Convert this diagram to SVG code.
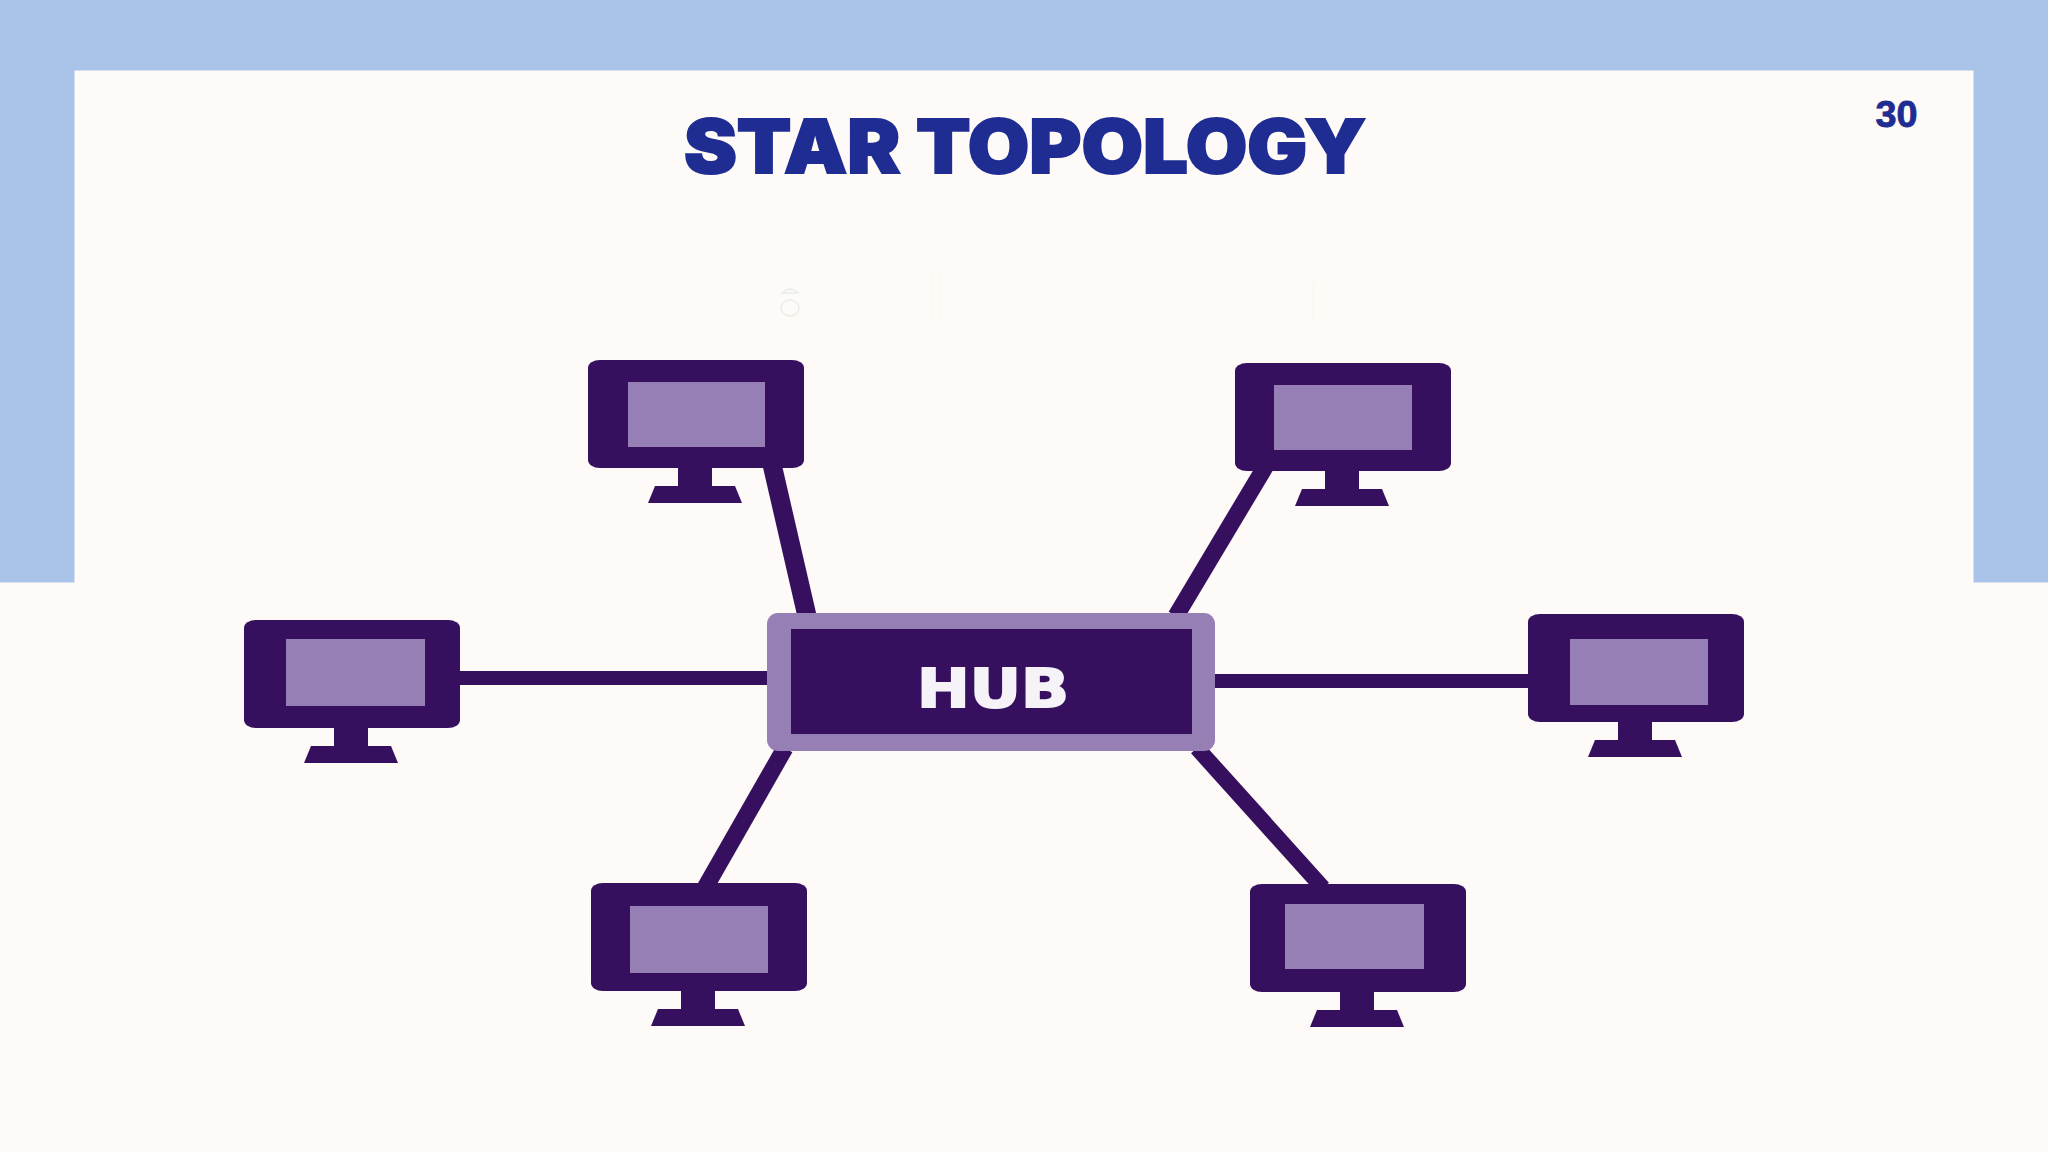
<svg xmlns="http://www.w3.org/2000/svg" width="2048" height="1152" viewBox="0 0 2048 1152">
<style>
.dark{fill:#36105E}
.screen{fill:#957FB5}
.link{stroke:#36105E;fill:none}
.blue{fill:#A9C4E8}
.title{font-family:"Inter","Liberation Sans",sans-serif;font-weight:900;fill:#1F2D93;stroke:#1F2D93;stroke-linejoin:miter}
.num{font-family:"Liberation Sans",sans-serif;font-weight:700;fill:#1F2D93;stroke:#1F2D93}
.hubtext{font-family:"DejaVu Sans",sans-serif;font-weight:700;fill:#F5F3F8;stroke:#F5F3F8}
</style>
<defs>
<g id="monitor">
<rect class="dark" x="0" y="0" width="216" height="108" rx="12" ry="8"/>
<rect class="dark" x="90" y="105" width="34" height="24"/>
<polygon class="dark" points="67,126 147,126 154,143 60,143"/>
</g>
</defs>
<rect width="2048" height="1152" fill="#FEFAF7"/>
<g id="frame">
<rect class="blue" x="0" y="0" width="2048" height="70.5"/>
<rect class="blue" x="0" y="0" width="74.5" height="582.5"/>
<rect class="blue" x="1973.5" y="0" width="74.5" height="582.5"/>
</g>
<g id="ghost" fill="none">
<ellipse cx="790" cy="308" rx="9" ry="8" stroke="#E9EEE8" stroke-width="1.5"/>
<path d="M782 293Q790 285 798 293Z" stroke="#E9EEE8" stroke-width="1.5"/>
<path d="M931 272V320M939 272V320M1313 282V320" stroke="#FCF9F5" stroke-width="2"/>
</g>
<text class="title" x="684" y="173" font-size="74" stroke-width="2" textLength="682" lengthAdjust="spacingAndGlyphs">STAR TOPOLOGY</text>
<text class="num" x="1875.5" y="126.5" font-size="36" stroke-width="0.8" textLength="42" lengthAdjust="spacingAndGlyphs">30</text>
<g id="connectors">
<line class="link" x1="771" y1="460" x2="807" y2="616" stroke-width="19"/>
<line class="link" x1="1268" y1="462" x2="1176" y2="616" stroke-width="17"/>
<line class="link" x1="455" y1="678" x2="770" y2="678" stroke-width="14"/>
<line class="link" x1="1212" y1="681" x2="1532" y2="681" stroke-width="14"/>
<line class="link" x1="785" y1="748" x2="705" y2="888" stroke-width="17"/>
<line class="link" x1="1197" y1="748" x2="1323" y2="888" stroke-width="16"/>
</g>
<g id="hub">
<rect class="screen" x="767" y="613" width="448" height="138" rx="11"/>
<rect class="dark" x="791" y="629" width="401" height="105"/>
<text class="hubtext" x="917" y="707" font-size="54" stroke-width="2" textLength="152" lengthAdjust="spacingAndGlyphs">HUB</text>
</g>
<g id="pc-top-left"><use href="#monitor" x="588" y="360"/><rect class="screen" x="628" y="382" width="137" height="65"/></g>
<g id="pc-top-right"><use href="#monitor" x="1235" y="363"/><rect class="screen" x="1274" y="385" width="138" height="65"/></g>
<g id="pc-left"><use href="#monitor" x="244" y="620"/><rect class="screen" x="286" y="639" width="139" height="67"/></g>
<g id="pc-right"><use href="#monitor" x="1528" y="614"/><rect class="screen" x="1570" y="639" width="138" height="66"/></g>
<g id="pc-bottom-left"><use href="#monitor" x="591" y="883"/><rect class="screen" x="630" y="906" width="138" height="67"/></g>
<g id="pc-bottom-right"><use href="#monitor" x="1250" y="884"/><rect class="screen" x="1285" y="904" width="139" height="65"/></g>
</svg>
